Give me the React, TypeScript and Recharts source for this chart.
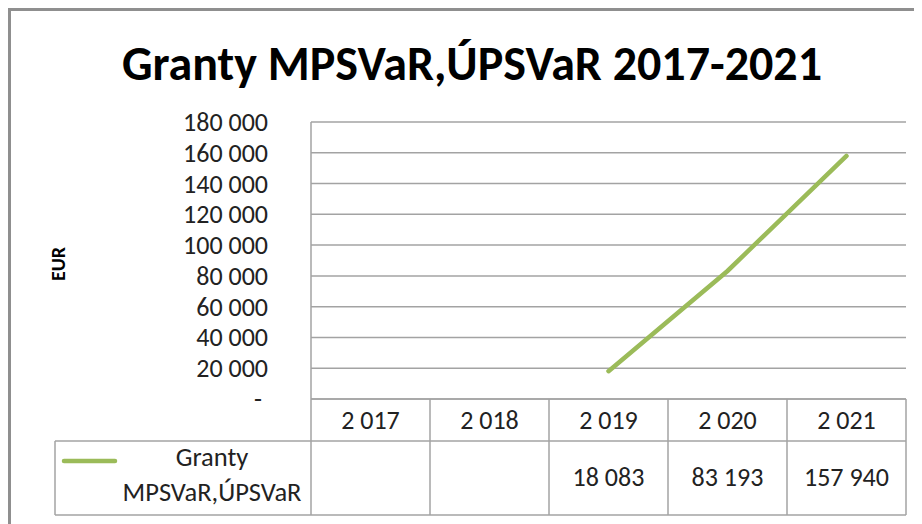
import React from "react";
import { LineChart, Line, XAxis, YAxis, CartesianGrid } from "recharts";

const categories = ["2 017", "2 018", "2 019", "2 020", "2 021"];
const grants: (number | null)[] = [null, null, 18083, 83193, 157940];
const yTicks = [0, 20000, 40000, 60000, 80000, 100000, 120000, 140000, 160000, 180000];
const seriesName = ["Granty", "MPSVaR,ÚPSVaR"];
const title = "Granty MPSVaR,ÚPSVaR 2017-2021";
const yLabel = "EUR";

const data = categories.map((c, i) => ({ year: c, value: grants[i] }));

const W = 914;
const H = 516;
const FONT = "Carlito, Calibri, Lato, 'Liberation Sans', sans-serif";
const GRID = "#a3a3a3";
const GREEN = "#9bbb59";
const HALF = 59.5;
const TABLE_H = 116;
const ROW1 = 42;
const FS = 26;

const fmt = (v: number) => String(v).replace(/\B(?=(\d{3})+(?!\d))/g, " ");

const YTick = (props: any) => {
  const { x, y, payload } = props;
  const v = payload.value as number;
  return (
    <text
      x={v === 0 ? x - 49 : x - 43}
      y={y}
      textAnchor="end"
      dominantBaseline="central"
      fontFamily={FONT}
      fontSize={FS}
      fill="#222"
    >
      {v === 0 ? "-" : fmt(v)}
    </text>
  );
};

const XTick = (props: any) => {
  const { x, y, payload, index } = props;
  const top = y;
  const v = grants[index];
  const ln = { stroke: GRID, strokeWidth: 1.5 };
  return (
    <g>
      <text x={x} y={top + ROW1 / 2} textAnchor="middle" dominantBaseline="central" fontFamily={FONT} fontSize={FS} fill="#222">
        {payload.value}
      </text>
      {v != null && (
        <text x={x} y={top + 78} textAnchor="middle" dominantBaseline="central" fontFamily={FONT} fontSize={FS} fill="#222">
          {fmt(v)}
        </text>
      )}
      <line x1={x + HALF} y1={top} x2={x + HALF} y2={top + TABLE_H} {...ln} />
      <line x1={x - HALF} y1={top + ROW1} x2={x + HALF} y2={top + ROW1} {...ln} />
      <line x1={x - HALF} y1={top + TABLE_H} x2={x + HALF} y2={top + TABLE_H} {...ln} />
      {index === 0 && (
        <g>
          <line x1={x - HALF} y1={top} x2={x - HALF} y2={top + TABLE_H} {...ln} />
          <line x1={47} y1={top + ROW1} x2={x - HALF} y2={top + ROW1} {...ln} />
          <line x1={47} y1={top + TABLE_H} x2={x - HALF} y2={top + TABLE_H} {...ln} />
          <line x1={47} y1={top + ROW1} x2={47} y2={top + TABLE_H} {...ln} />
          <line x1={56} y1={top + 62} x2={107} y2={top + 62} stroke={GREEN} strokeWidth={4.5} strokeLinecap="round" />
          <text x={204} y={top + 58} textAnchor="middle" dominantBaseline="central" fontFamily={FONT} fontSize={26.5} fill="#222">
            {seriesName[0]}
          </text>
          <text x={204} y={top + 93} textAnchor="middle" dominantBaseline="central" fontFamily={FONT} fontSize={26.5} fill="#222">
            {seriesName[1]}
          </text>
        </g>
      )}
    </g>
  );
};

export default function App() {
  return (
    <div style={{ position: "relative", width: W, height: H }}>
      <div
        style={{
          position: "absolute",
          left: 0,
          top: 0,
          width: W,
          height: H,
          boxSizing: "border-box",
          borderTop: "3px solid #8f8f8f",
          borderLeft: "3px solid #8f8f8f",
        }}
      />
      <div style={{ position: "absolute", left: 0, top: 0 }}>
        <LineChart width={W} height={H} data={data} margin={{ top: 114, right: 16, bottom: 9, left: 0 }}>
          <CartesianGrid horizontal vertical={false} stroke={GRID} strokeWidth={1.5} />
          <XAxis
            dataKey="year"
            height={TABLE_H}
            padding={{ left: HALF, right: HALF }}
            interval={0}
            tickLine={false}
            tickSize={0}
            tickMargin={0}
            axisLine={{ stroke: GRID, strokeWidth: 1.5 }}
            tick={(p: any) => <XTick {...p} />}
          />
          <YAxis
            width={303}
            domain={[0, 180000]}
            ticks={yTicks}
            interval={0}
            tickLine={false}
            tickSize={0}
            tickMargin={0}
            axisLine={{ stroke: GRID, strokeWidth: 1.5 }}
            tick={(p: any) => <YTick {...p} />}
          />
          <Line
            type="linear"
            dataKey="value"
            stroke={GREEN}
            strokeWidth={4.5}
            strokeLinecap="round"
            dot={false}
            activeDot={false}
            connectNulls={false}
            isAnimationActive={false}
          />
        </LineChart>
      </div>
      <svg width={W} height={H} style={{ position: "absolute", left: 0, top: 0, pointerEvents: "none" }}>
        <text x={464} y={72} textAnchor="middle" fontFamily={FONT} fontWeight="bold" fontSize={48} fill="#000">
          {title}
        </text>
        <text
          x={50}
          y={256}
          textAnchor="middle"
          dominantBaseline="central"
          transform="rotate(-90 50 256)"
          fontFamily={FONT}
          fontWeight="bold"
          fontSize={20}
          fill="#000"
        >
          {yLabel}
        </text>
      </svg>
    </div>
  );
}
